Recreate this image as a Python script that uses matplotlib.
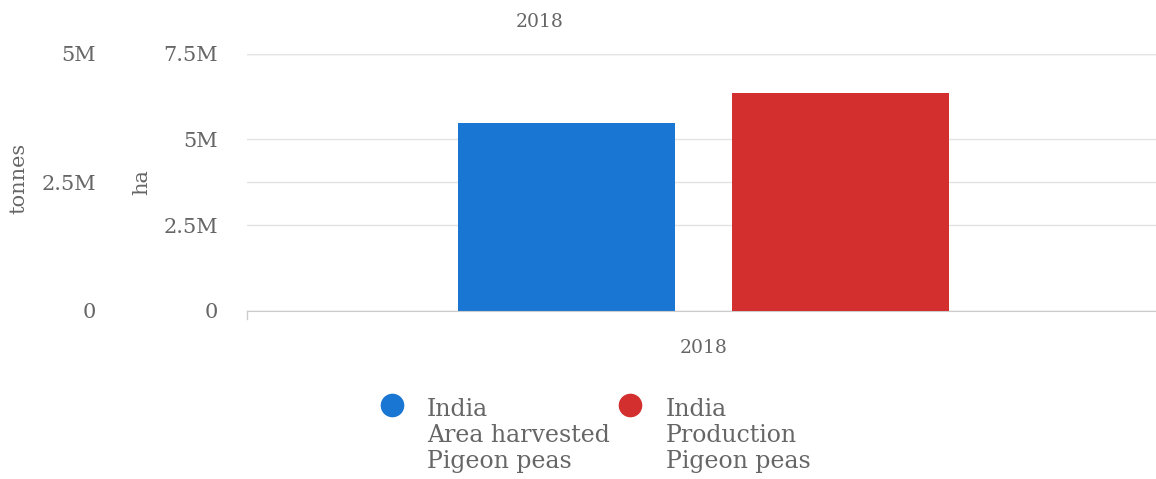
import matplotlib
matplotlib.use("Agg")
import matplotlib.pyplot as plt
from matplotlib.lines import Line2D
from matplotlib.ticker import FixedLocator, FuncFormatter

# ---- data ----
category = ["2018"]
subtitle = "2018"
series_labels = ["India\nArea harvested\nPigeon peas", "India\nProduction\nPigeon peas"]
series_colors = ["#1976d2", "#d32f2f"]
area_ha = [5.49e6]
production_t = [4.24e6]
ha_ticks = [0, 2.5e6, 5e6, 7.5e6]
t_ticks = [0, 2.5e6, 5e6]

plt.rcParams['font.family'] = ['DejaVu Serif']
txt = "#666666"
grid = "#e3e3e3"

W, H = 1156, 479
fig = plt.figure(figsize=(W / 100, H / 100), dpi=100)
left = 247 / W
right = 1160 / W
bottom = 1 - 311 / H
top = 1 - 53.5 / H
ax = fig.add_axes([left, bottom, right - left, top - bottom])
ax2 = ax.twinx()
axw_px = 1160 - 247

def fmt(v, pos):
    if v == 0:
        return "0"
    return ("%g" % (v / 1e6)) + "M"

x = [0]
bw = 0.2377
off = 0.1503
ax.bar([xi - off for xi in x], area_ha, width=bw, color=series_colors[0], zorder=3)
ax2.bar([xi + off for xi in x], production_t, width=bw, color=series_colors[1], zorder=3)

ax.set_xlim(-0.5, 0.5)
ax.set_ylim(0, 7.5e6)
ax2.set_ylim(0, 5e6)

ax.yaxis.set_major_locator(FixedLocator(ha_ticks))
ax.yaxis.set_major_formatter(FuncFormatter(fmt))
ax2.yaxis.set_major_locator(FixedLocator(t_ticks))
ax2.yaxis.set_major_formatter(FuncFormatter(fmt))
ax2.yaxis.set_ticks_position('left')
ax2.yaxis.set_label_position('left')

for a in (ax, ax2):
    for s in a.spines.values():
        s.set_visible(False)
    a.tick_params(axis='y', length=0, labelsize=15, labelcolor=txt)

ax.tick_params(axis='y', pad=21)
ax2.tick_params(axis='y', pad=109)

# gridlines: all drawn in the lower axes so that both bars sit on top
ax.grid(axis='y', color=grid, linewidth=1, zorder=0)
ax.set_axisbelow(True)
to_ax = ax2.transData + ax.transAxes.inverted()
for t in t_ticks:
    yf = to_ax.transform((0, t))[1]
    ax.plot([0, 1], [yf, yf], transform=ax.transAxes, color=grid, lw=1, zorder=0)

ax.spines['bottom'].set_visible(True)
ax.spines['bottom'].set_color("#cccccc")
ax.spines['bottom'].set_zorder(4)

ax.set_xticks(x)
ax.set_xticklabels(category)
ax.tick_params(axis='x', length=0, pad=20, labelsize=13.5, labelcolor=txt)

ax.set_ylabel("ha", color=txt, fontsize=15)
ax.yaxis.set_label_coords(-(247 - 151) / axw_px, 0.5)
ax2.set_ylabel("tonnes", color=txt, fontsize=15)
ax2.yaxis.set_label_coords(-(247 - 28) / axw_px, 0.516)

# small tick at left end of x-axis
fig.add_artist(Line2D([left, left], [bottom, bottom - 8 / H], color="#cccccc", lw=1))

fig.text(540 / W, 1 - 22 / H, subtitle, ha='center', va='center', color=txt, fontsize=13.5)

# legend, drawn manually
leg_mx = [392, 630]
leg_tx = [427, 666]
for i, (lab, col) in enumerate(zip(series_labels, series_colors)):
    fig.add_artist(Line2D([leg_mx[i] / W], [1 - 405 / H], marker='o', markersize=16,
                          color=col, linestyle='none'))
    fig.text(leg_tx[i] / W, 1 - 468 / H, lab, ha='left', va='baseline', color=txt,
             fontsize=17, linespacing=1.16)

fig.savefig("out.png", dpi=100)
